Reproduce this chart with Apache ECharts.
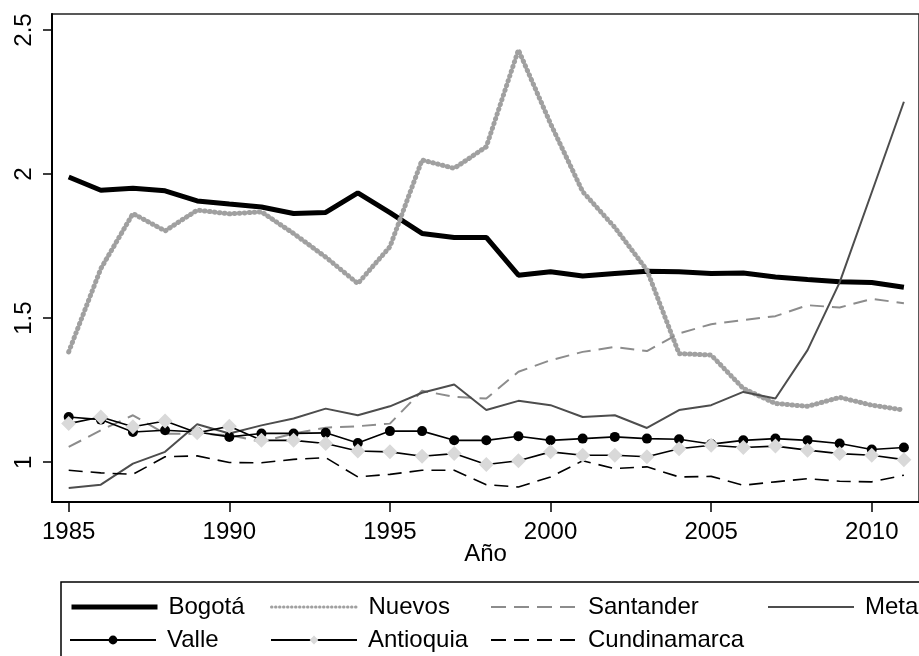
<!DOCTYPE html>
<html>
<head>
<meta charset="utf-8">
<script src="https://cdn.jsdelivr.net/npm/echarts@6/dist/echarts.min.js"></script>
<style>
  html, body { margin: 0; padding: 0; background: #fff; }
  #chart { width: 919px; height: 656px; }
</style>
</head>
<body>
<div id="chart"></div>
<script>
// años
const years = [1985, 1986, 1987, 1988, 1989, 1990, 1991, 1992, 1993, 1994, 1995, 1996, 1997, 1998,
  1999, 2000, 2001, 2002, 2003, 2004, 2005, 2006, 2007, 2008, 2009, 2010, 2011]
const xTicks = [1985, 1990, 1995, 2000, 2005, 2010]
const yTicks = [1, 1.5, 2, 2.5]

const bogota = [1.99, 1.944, 1.951, 1.942, 1.907, 1.896, 1.886, 1.863, 1.867, 1.935, 1.866, 1.794, 1.780, 1.780,
  1.649, 1.661, 1.646, 1.655, 1.663, 1.661, 1.655, 1.657, 1.643, 1.634, 1.626, 1.624, 1.607]
const nuevos = [1.383, 1.672, 1.863, 1.803, 1.875, 1.862, 1.869, 1.794, 1.712, 1.620, 1.748, 2.049, 2.020, 2.095,
  2.431, 2.175, 1.939, 1.815, 1.667, 1.377, 1.372, 1.256, 1.204, 1.194, 1.225, 1.198, 1.181]
const santander = [1.053, 1.111, 1.163, 1.099, 1.099, 1.094, 1.071, 1.100, 1.120, 1.125, 1.134, 1.248, 1.227, 1.221,
  1.314, 1.354, 1.383, 1.400, 1.386, 1.447, 1.479, 1.493, 1.507, 1.545, 1.537, 1.567, 1.552]
const meta = [0.911, 0.922, 0.995, 1.036, 1.132, 1.100, 1.128, 1.152, 1.186, 1.163, 1.194, 1.241, 1.270, 1.181,
  1.213, 1.198, 1.157, 1.163, 1.119, 1.181, 1.198, 1.244, 1.221, 1.389, 1.624, 1.937, 2.251]
const valle = [1.157, 1.148, 1.105, 1.111, 1.105, 1.088, 1.100, 1.100, 1.102, 1.067, 1.108, 1.108, 1.076, 1.076,
  1.090, 1.076, 1.082, 1.088, 1.082, 1.080, 1.063, 1.076, 1.082, 1.076, 1.065, 1.044, 1.051]
const antioquia = [1.134, 1.157, 1.123, 1.143, 1.102, 1.125, 1.076, 1.076, 1.065, 1.039, 1.036, 1.021, 1.030, 0.992,
  1.005, 1.036, 1.024, 1.024, 1.019, 1.047, 1.059, 1.051, 1.056, 1.042, 1.030, 1.024, 1.009]
const cundinamarca = [0.972, 0.963, 0.958, 1.019, 1.022, 0.999, 0.998, 1.010, 1.016, 0.949, 0.958, 0.972, 0.972, 0.922,
  0.914, 0.949, 1.005, 0.978, 0.984, 0.949, 0.951, 0.920, 0.932, 0.943, 0.934, 0.932, 0.955]

const pairs = arr => years.map((y, i) => [y, arr[i]])
const FONT = 'Liberation Sans'

let myChart = echarts.init(document.getElementById('chart'))

// leyenda: un componente por entrada para imitar las columnas
const noMark = { opacity: 0 }
const legendPos = [
  [{ name: 'Bogotá', itemStyle: noMark, lineStyle: { width: 5 } }, 69, 595],
  [{ name: 'Nuevos', itemStyle: noMark, lineStyle: { width: 3, type: [0.5, 3.5], cap: 'round' } }, 270, 595],
  [{ name: 'Santander', itemStyle: noMark, lineStyle: { width: 2, type: [15, 8] } }, 490, 595],
  [{ name: 'Meta', itemStyle: noMark, lineStyle: { width: 2 } }, 767, 595],
  [{ name: 'Valle', lineStyle: { width: 2 } }, 69, 628],
  [{ name: 'Antioquia', lineStyle: { width: 2 } }, 270, 628],
  [{ name: 'Cundinamarca', itemStyle: noMark, lineStyle: { width: 2, type: [15, 8] } }, 490, 628]
]
let legends = legendPos.map(p => ({
  data: [p[0]],
  left: p[1],
  top: p[2],
  padding: 0,
  itemWidth: 86,
  itemHeight: 11,
  selectedMode: false,
  textStyle: { fontFamily: FONT, fontSize: 24, color: '#000', lineHeight: 24, padding: [0, 0, 0, 6] }
}))

let option = {
  animation: false,
  backgroundColor: '#fff',
  grid: {
    left: 52,
    top: 14,
    width: 880,
    height: 488,
    show: true,
    borderColor: '#222',
    borderWidth: 1.5
  },
  legend: legends,
  graphic: [{
    type: 'rect',
    shape: { x: 61, y: 582, width: 872, height: 100 },
    style: { fill: 'none', stroke: '#000', lineWidth: 1.5 },
    silent: true
  }],
  xAxis: {
    type: 'value',
    min: 1984.48,
    max: 2011.47,
    name: 'Año',
    nameLocation: 'middle',
    nameGap: 40,
    nameMoveOverlap: false,
    nameTextStyle: { fontFamily: FONT, fontSize: 24, color: '#000' },
    splitLine: { show: false },
    axisLine: { onZero: false, lineStyle: { color: '#000', width: 2 } },
    axisTick: { customValues: xTicks, length: 10, lineStyle: { color: '#000', width: 1.5 } },
    axisLabel: {
      customValues: xTicks, margin: 18, fontFamily: FONT, fontSize: 24, color: '#000',
      formatter: v => String(v)
    }
  },
  yAxis: {
    type: 'value',
    min: 0.862,
    max: 2.5556,
    splitLine: { show: false },
    axisLine: { show: true, onZero: false, lineStyle: { color: '#000', width: 2 } },
    axisTick: { customValues: yTicks, length: 9, lineStyle: { color: '#000', width: 1.5 } },
    axisLabel: { customValues: yTicks, rotate: 90, margin: 16, fontFamily: FONT, fontSize: 24, color: '#000' }
  },
  series: [
    {
      name: 'Bogotá', type: 'line', symbol: 'none', data: pairs(bogota),
      itemStyle: { color: '#000' }, lineStyle: { color: '#000', width: 5 }
    },
    {
      name: 'Nuevos', type: 'line', symbol: 'none', data: pairs(nuevos),
      itemStyle: { color: '#a0a0a0' }, lineStyle: { color: '#a0a0a0', width: 5, type: [0.5, 4.5], cap: 'round' }
    },
    {
      name: 'Santander', type: 'line', symbol: 'none', data: pairs(santander),
      itemStyle: { color: '#8c8c8c' }, lineStyle: { color: '#8c8c8c', width: 2, type: [14, 8] }
    },
    {
      name: 'Meta', type: 'line', symbol: 'none', data: pairs(meta),
      itemStyle: { color: '#4d4d4d' }, lineStyle: { color: '#4d4d4d', width: 2 }
    },
    {
      name: 'Valle', type: 'line', symbol: 'circle', symbolSize: 10, data: pairs(valle),
      itemStyle: { color: '#000' }, lineStyle: { color: '#000', width: 1.6 }
    },
    {
      name: 'Antioquia', type: 'line', symbol: 'diamond', symbolSize: 15, data: pairs(antioquia),
      itemStyle: { color: '#d9d9d9', borderWidth: 0 }, lineStyle: { color: '#000', width: 1.6 }
    },
    {
      name: 'Cundinamarca', type: 'line', symbol: 'none', data: pairs(cundinamarca),
      itemStyle: { color: '#000' }, lineStyle: { color: '#000', width: 1.6, type: [14, 8] }
    }
  ]
}
myChart.setOption(option)
</script>
</body>
</html>
